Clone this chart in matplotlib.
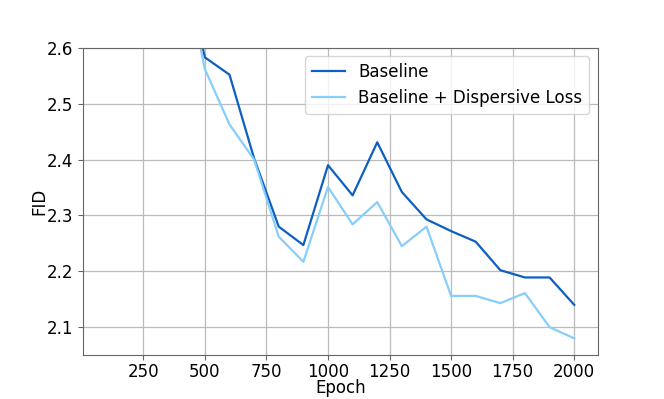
import matplotlib
matplotlib.use('Agg')
import matplotlib.pyplot as plt

epochs = [100, 200, 300, 400, 500, 600, 700, 800, 900, 1000,
          1100, 1200, 1300, 1400, 1500, 1600, 1700, 1800, 1900, 2000]
baseline = [4.10, 3.30, 2.95, 2.77, 2.583, 2.552, 2.402, 2.280, 2.247, 2.390,
            2.336, 2.431, 2.342, 2.293, 2.272, 2.253, 2.202, 2.189, 2.189, 2.140]
dispersive = [4.00, 3.25, 2.95, 2.78, 2.562, 2.463, 2.400, 2.262, 2.217, 2.351,
              2.284, 2.324, 2.245, 2.280, 2.156, 2.156, 2.143, 2.161, 2.100, 2.080]
xticks = [250, 500, 750, 1000, 1250, 1500, 1750, 2000]


def main():
    fig, ax = plt.subplots(figsize=(6.64, 3.99), dpi=100)

    ax.plot(epochs, baseline, color='#0D5FC2', lw=1.6, label='Baseline')
    ax.plot(epochs, dispersive, color='#87CEFA', lw=1.6, label='Baseline + Dispersive Loss')

    ax.set_ylim(2.05, 2.6)
    ax.set_xticks(xticks)
    ax.grid(True, color='#bbbbbb', lw=0.9)
    ax.set_axisbelow(True)

    for s in ax.spines.values():
        s.set_color('#666666')
    ax.tick_params(colors='#666666', labelcolor='black', labelsize=12)
    ax.tick_params(axis='x', pad=2.5)

    ax.set_xlabel('Epoch', fontsize=12, labelpad=-1.5)
    ax.set_ylabel('FID', fontsize=12, labelpad=-1)
    ax.legend(loc='upper right', fontsize=12)

    plt.savefig('out.png', dpi=100)


if __name__ == '__main__':
    main()
